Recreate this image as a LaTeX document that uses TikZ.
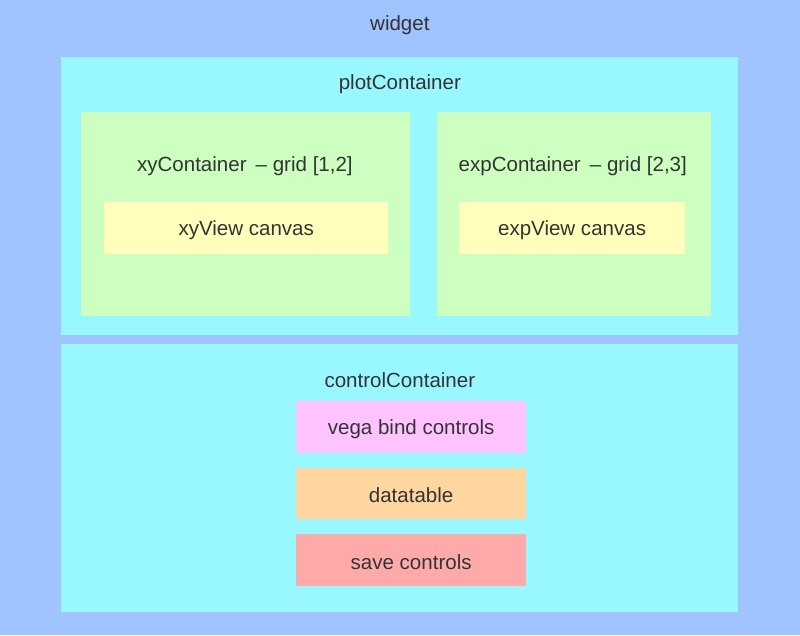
\documentclass[tikz,border=0pt]{standalone}
\usepackage{fontspec}
\setmainfont{Liberation Sans}
\definecolor{widgetblue}{HTML}{A0C4FF}
\definecolor{boxcyan}{HTML}{99F8FF}
\definecolor{boxgreen}{HTML}{CCFFC0}
\definecolor{boxyellow}{HTML}{FFFFBB}
\definecolor{boxpink}{HTML}{FFC4FF}
\definecolor{boxorange}{HTML}{FFD6A0}
\definecolor{boxred}{HTML}{FFAAAA}
\definecolor{labeltext}{HTML}{333333}
\begin{document}
\begin{tikzpicture}[x=0.025cm,y=-0.025cm,
    every node/.style={text=labeltext,font=\fontsize{14.6}{16}\selectfont},
    panel/.style={rectangle,inner sep=0pt,anchor=north west}]
%  \draw[help lines] (0,0) grid[step=50] (800,635);
    \path (0,0) node(widget) [panel,fill=widgetblue,minimum width=800*0.025cm,minimum height=635*0.025cm] {}
    (61,57) node(plot) [panel,fill=boxcyan,minimum width=677*0.025cm,minimum height=278*0.025cm] {}
    (81,112) node(xy) [panel,fill=boxgreen,minimum width=329*0.025cm,minimum height=204*0.025cm] {}
    (104,202) node(xyview) [panel,fill=boxyellow,minimum width=284*0.025cm,minimum height=52*0.025cm] {}
    (437,112) node(exp) [panel,fill=boxgreen,minimum width=274*0.025cm,minimum height=204*0.025cm] {}
    (459,202) node(expview) [panel,fill=boxyellow,minimum width=226*0.025cm,minimum height=52*0.025cm] {}
    (61,344) node(control) [panel,fill=boxcyan,minimum width=677*0.025cm,minimum height=268*0.025cm] {}
    (296,401) node(vega) [panel,fill=boxpink,minimum width=230*0.025cm,minimum height=52*0.025cm] {}
    (296,468) node(datatable) [panel,fill=boxorange,minimum width=230*0.025cm,minimum height=51*0.025cm] {}
    (296,534) node(save) [panel,fill=boxred,minimum width=230*0.025cm,minimum height=52*0.025cm] {};
    \path (400,25) node(widgetlbl) [ ] {widget}
    (400,84) node(plotlbl) [ ] {plotContainer}
    (245,166) node(xylbl) [ ] {xyContainer\ \,-- grid [1,2]}
    (573,166) node(explbl) [ ] {expContainer\ \,-- grid [2,3]}
    (400,380) node(controllbl) [ ] {controlContainer};
    \path (xyview.center) +(0,2) node [ ] {xyView\ canvas};
    \path (expview.center) +(0,2) node [ ] {expView\ canvas};
    \path (vega.center) +(0,2) node [ ] {vega bind controls};
    \path (datatable.center) +(0,2) node [ ] {datatable};
    \path (save.center) +(0,2) node [ ] {save controls};
  \end{tikzpicture}
\end{document}
